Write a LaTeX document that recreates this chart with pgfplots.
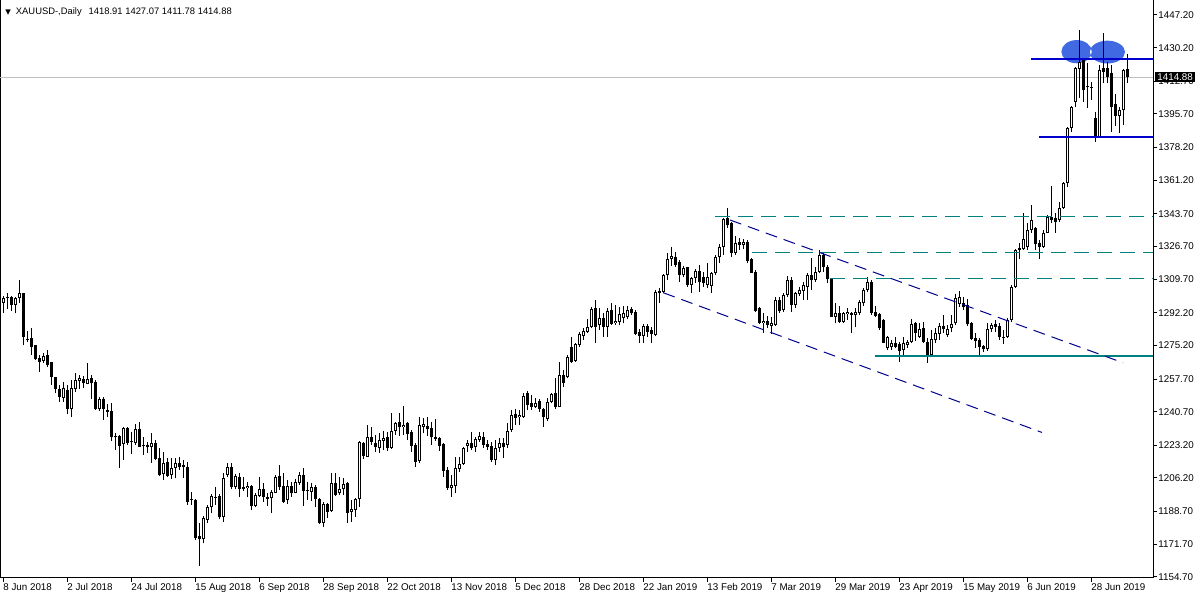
\documentclass[border=0pt]{standalone}
\usepackage{pgfplots}
\pgfplotsset{compat=1.18}
\usepackage{pgfplotstable}
\usepackage{fontspec}
\setmainfont{Liberation Sans}
\newfontfamily\symfont{DejaVu Sans}
\definecolor{hblue}{RGB}{0,0,205}
\definecolor{ellblue}{RGB}{65,105,225}
\definecolor{navyd}{RGB}{0,0,139}
\definecolor{tealc}{RGB}{0,128,128}
\definecolor{pgray}{RGB}{192,192,192}

\pgfplotstableread{
i O H L C
0 1297.3 1300.9 1292.1 1299.9
1 1299.8 1302.6 1294.0 1300.2
2 1300.6 1300.9 1293.3 1296.2
3 1296.2 1300.6 1291.9 1299.7
4 1299.7 1309.3 1297.4 1302.3
5 1302.6 1302.6 1275.4 1279.7
6 1278.4 1282.7 1277.2 1278.0
7 1278.9 1284.1 1270.2 1274.5
8 1275.4 1275.6 1267.5 1268.0
9 1268.8 1270.2 1261.5 1266.7
10 1267.1 1271.1 1266.2 1269.7
11 1270.2 1272.8 1264.1 1265.0
12 1266.4 1266.4 1254.6 1258.9
13 1258.6 1258.9 1250.6 1252.4
14 1252.5 1254.6 1245.9 1248.5
15 1248.0 1256.3 1245.9 1253.2
16 1252.0 1254.6 1239.5 1242.1
17 1242.0 1257.2 1238.1 1253.2
18 1252.4 1261.0 1251.1 1257.2
19 1256.8 1259.8 1252.4 1258.4
20 1257.7 1259.4 1252.9 1255.5
21 1255.1 1265.9 1254.9 1257.7
22 1258.1 1259.8 1247.3 1255.5
23 1256.2 1257.2 1241.6 1242.1
24 1242.1 1248.5 1241.2 1247.3
25 1247.3 1248.5 1236.4 1242.0
26 1241.6 1244.7 1238.1 1240.7
27 1241.1 1245.1 1225.6 1227.7
28 1228.1 1229.8 1220.8 1227.4
29 1228.1 1228.6 1211.6 1222.9
30 1223.9 1232.9 1215.6 1232.1
31 1232.1 1232.9 1223.4 1224.6
32 1225.3 1230.3 1218.7 1225.1
33 1224.3 1234.3 1223.4 1231.5
34 1231.5 1235.5 1222.2 1222.5
35 1223.1 1227.7 1218.2 1223.0
36 1223.4 1225.1 1219.1 1222.2
37 1222.2 1229.5 1214.2 1224.6
38 1224.6 1226.0 1215.6 1215.9
39 1216.4 1221.7 1207.2 1207.8
40 1208.3 1219.9 1205.2 1213.9
41 1214.7 1216.4 1206.9 1207.2
42 1207.8 1216.4 1205.5 1211.2
43 1211.2 1216.4 1206.0 1213.9
44 1213.9 1217.3 1210.4 1212.1
45 1213.0 1215.6 1206.0 1211.8
46 1211.8 1214.7 1192.2 1193.9
47 1194.8 1199.1 1192.2 1194.6
48 1194.8 1195.1 1173.9 1174.8
49 1176.0 1182.6 1160.4 1174.3
50 1174.3 1186.4 1172.2 1185.2
51 1184.3 1192.2 1182.9 1190.9
52 1190.9 1197.9 1187.8 1196.8
53 1195.6 1201.7 1192.2 1196.4
54 1196.8 1197.9 1184.7 1185.7
55 1186.1 1209.0 1183.5 1206.0
56 1207.8 1213.9 1206.9 1211.8
57 1211.8 1213.9 1200.3 1201.4
58 1201.4 1208.3 1200.3 1207.2
59 1206.6 1208.6 1196.5 1200.3
60 1201.7 1206.6 1199.6 1200.3
61 1200.8 1204.3 1196.5 1202.0
62 1202.0 1202.6 1189.6 1191.6
63 1191.6 1198.2 1190.9 1197.4
64 1196.8 1206.9 1196.1 1200.3
65 1200.3 1203.8 1193.9 1196.1
66 1196.5 1198.2 1191.6 1195.4
67 1195.6 1200.0 1188.1 1199.1
68 1198.6 1207.8 1198.2 1206.6
69 1207.2 1213.0 1200.0 1201.7
70 1202.0 1208.6 1193.3 1193.9
71 1194.8 1205.2 1192.7 1202.0
72 1202.0 1204.3 1196.5 1198.6
73 1198.6 1205.5 1198.2 1204.3
74 1203.5 1209.5 1202.6 1207.8
75 1207.8 1211.2 1191.6 1199.6
76 1199.5 1204.3 1194.8 1199.3
77 1199.1 1203.4 1194.4 1201.4
78 1201.4 1202.6 1190.9 1195.1
79 1195.1 1195.6 1182.3 1183.0
80 1183.0 1193.9 1180.9 1192.7
81 1192.7 1193.3 1185.2 1188.7
82 1189.2 1208.6 1188.7 1203.4
83 1203.4 1208.6 1196.8 1197.4
84 1198.2 1206.9 1197.4 1200.3
85 1200.3 1206.0 1197.4 1203.1
86 1203.4 1204.3 1183.0 1188.1
87 1188.7 1194.8 1183.5 1189.9
88 1189.5 1195.6 1186.1 1195.1
89 1195.1 1225.6 1191.3 1224.8
90 1224.3 1225.1 1215.9 1217.6
91 1217.3 1233.8 1217.0 1227.4
92 1227.4 1232.9 1223.4 1225.1
93 1224.3 1228.6 1219.9 1222.5
94 1221.7 1229.5 1219.1 1226.0
95 1225.6 1230.8 1220.8 1226.9
96 1227.4 1230.3 1220.4 1221.7
97 1221.7 1239.9 1221.1 1230.7
98 1230.8 1235.5 1228.6 1234.7
99 1235.5 1240.2 1228.1 1232.6
100 1232.6 1243.7 1228.6 1233.8
101 1234.7 1235.5 1226.0 1229.1
102 1230.3 1231.2 1219.9 1222.9
103 1223.4 1224.3 1212.1 1214.7
104 1215.1 1238.1 1214.2 1233.8
105 1232.9 1237.3 1229.5 1234.3
106 1233.3 1237.8 1228.1 1231.5
107 1232.1 1235.5 1223.4 1227.4
108 1227.4 1236.8 1225.6 1226.3
109 1226.9 1227.4 1220.4 1222.9
110 1223.9 1224.3 1206.9 1210.0
111 1210.4 1211.8 1200.0 1200.8
112 1200.8 1207.8 1196.5 1202.6
113 1202.0 1217.0 1198.2 1211.2
114 1210.7 1217.3 1209.5 1213.5
115 1213.5 1222.5 1213.0 1221.7
116 1222.9 1226.0 1219.9 1224.6
117 1224.6 1230.3 1220.8 1221.7
118 1222.2 1227.7 1219.9 1226.3
119 1226.0 1230.3 1225.1 1228.1
120 1227.4 1230.3 1221.7 1223.4
121 1223.9 1226.0 1220.8 1222.5
122 1222.9 1225.1 1214.5 1215.6
123 1215.6 1226.0 1213.0 1221.7
124 1221.7 1226.9 1219.9 1224.6
125 1224.3 1226.9 1216.4 1222.2
126 1223.4 1235.0 1221.7 1230.8
127 1231.2 1241.6 1230.3 1239.0
128 1239.3 1242.0 1233.8 1237.3
129 1237.8 1241.6 1233.8 1239.0
130 1237.8 1250.3 1237.3 1248.9
131 1250.3 1251.6 1241.6 1244.2
132 1245.1 1249.4 1241.6 1243.3
133 1243.3 1247.7 1242.5 1245.4
134 1246.4 1247.2 1240.7 1242.0
135 1242.0 1242.5 1232.9 1238.1
136 1236.7 1247.7 1236.0 1245.9
137 1245.9 1250.6 1245.1 1249.9
138 1250.3 1258.1 1242.0 1243.0
139 1243.3 1266.7 1243.0 1259.8
140 1259.8 1262.4 1253.7 1255.8
141 1258.6 1270.2 1258.1 1269.3
142 1274.2 1279.7 1266.2 1266.7
143 1267.3 1276.6 1266.7 1275.9
144 1275.4 1282.3 1274.5 1281.2
145 1280.1 1284.1 1278.1 1282.9
146 1282.3 1288.8 1281.5 1284.6
147 1284.6 1295.0 1284.1 1294.2
148 1294.5 1298.9 1276.6 1284.9
149 1285.8 1294.5 1283.2 1289.3
150 1289.3 1291.9 1279.4 1284.9
151 1284.9 1294.5 1279.7 1293.1
152 1293.6 1297.1 1285.8 1286.4
153 1286.7 1296.3 1285.8 1287.9
154 1287.6 1295.4 1285.8 1291.6
155 1289.3 1295.7 1286.7 1291.9
156 1289.8 1295.7 1288.8 1293.6
157 1294.0 1295.4 1291.0 1291.9
158 1292.8 1293.6 1280.6 1281.2
159 1282.3 1283.6 1276.6 1280.1
160 1280.1 1286.4 1276.6 1285.3
161 1285.3 1286.4 1279.7 1282.3
162 1283.2 1284.9 1276.6 1281.2
163 1280.6 1304.1 1280.1 1303.2
164 1302.7 1304.9 1297.4 1303.5
165 1303.2 1312.4 1302.7 1311.9
166 1311.9 1323.2 1309.3 1320.0
167 1320.3 1326.6 1316.6 1321.8
168 1321.4 1324.0 1316.2 1317.1
169 1318.8 1319.5 1308.4 1311.9
170 1311.9 1316.6 1311.0 1315.3
171 1315.9 1316.2 1305.8 1306.7
172 1306.7 1311.0 1302.3 1310.1
173 1310.1 1314.8 1307.9 1314.1
174 1314.1 1317.1 1303.2 1308.4
175 1311.0 1313.6 1305.8 1307.9
176 1306.7 1317.9 1304.9 1311.0
177 1306.1 1313.6 1302.3 1313.1
178 1312.7 1322.3 1311.9 1321.4
179 1321.4 1328.0 1318.0 1326.6
180 1326.6 1341.4 1322.3 1340.8
181 1341.4 1346.6 1336.2 1337.9
182 1339.1 1339.6 1321.1 1323.5
183 1323.5 1332.2 1322.3 1328.7
184 1329.2 1331.0 1324.9 1327.5
185 1327.5 1330.4 1325.2 1329.2
186 1329.2 1330.1 1317.9 1319.3
187 1320.0 1320.5 1312.7 1313.1
188 1313.6 1314.5 1292.8 1293.3
189 1294.5 1295.0 1286.4 1286.7
190 1286.7 1291.9 1281.8 1288.1
191 1288.1 1290.5 1284.1 1285.8
192 1285.3 1290.2 1281.2 1287.0
193 1285.8 1300.6 1285.3 1298.9
194 1298.9 1300.6 1292.2 1293.3
195 1293.6 1302.6 1292.8 1301.5
196 1301.5 1311.3 1300.6 1309.3
197 1309.3 1311.0 1292.8 1296.3
198 1296.3 1303.2 1294.5 1302.3
199 1301.9 1305.8 1300.9 1304.1
200 1303.7 1308.4 1298.9 1306.7
201 1305.8 1313.1 1298.9 1311.9
202 1311.9 1320.6 1304.1 1309.3
203 1309.3 1316.2 1308.4 1313.6
204 1313.6 1324.9 1313.1 1322.3
205 1322.3 1323.5 1313.6 1316.2
206 1316.2 1317.1 1307.5 1309.6
207 1309.6 1310.1 1289.9 1290.2
208 1290.2 1297.4 1286.7 1292.2
209 1292.2 1295.7 1287.0 1287.6
210 1287.6 1292.8 1286.7 1292.2
211 1291.6 1294.5 1288.4 1292.8
212 1291.1 1292.8 1281.5 1292.0
213 1291.1 1294.5 1284.6 1292.8
214 1292.2 1298.9 1291.0 1298.0
215 1297.1 1304.9 1295.7 1304.1
216 1304.1 1311.0 1303.2 1308.4
217 1308.4 1309.3 1291.0 1292.2
218 1292.8 1295.7 1289.9 1290.5
219 1291.6 1291.9 1283.2 1284.1
220 1288.4 1288.8 1276.3 1276.6
221 1273.7 1280.1 1272.8 1279.4
222 1274.2 1278.0 1272.8 1276.3
223 1276.6 1279.7 1273.7 1274.5
224 1275.9 1277.1 1266.7 1272.5
225 1272.8 1279.4 1269.7 1276.3
226 1275.4 1278.0 1273.7 1277.1
227 1277.1 1288.8 1276.3 1286.4
228 1286.7 1287.6 1277.7 1281.8
229 1279.7 1286.7 1278.9 1283.6
230 1284.1 1287.6 1276.3 1277.1
231 1277.1 1278.9 1266.2 1270.2
232 1270.2 1283.2 1269.3 1278.4
233 1278.0 1284.1 1276.6 1281.5
234 1281.2 1286.7 1278.0 1285.1
235 1285.3 1291.0 1281.5 1283.6
236 1280.6 1285.8 1279.7 1283.6
237 1284.1 1291.0 1282.3 1286.4
238 1286.7 1302.0 1285.8 1299.7
239 1296.8 1303.7 1295.1 1300.6
240 1297.1 1300.6 1293.6 1295.4
241 1296.3 1299.2 1285.3 1286.4
242 1286.7 1287.6 1278.0 1278.4
243 1278.9 1281.5 1273.7 1277.7
244 1278.0 1278.9 1270.2 1274.5
245 1274.9 1275.4 1272.0 1273.2
246 1273.2 1287.0 1272.5 1283.6
247 1283.6 1286.7 1282.3 1285.8
248 1286.4 1288.4 1282.3 1285.0
249 1285.3 1287.0 1278.0 1279.7
250 1279.7 1283.0 1276.0 1279.0
251 1279.5 1289.5 1278.9 1288.4
252 1288.4 1306.7 1287.6 1305.8
253 1305.8 1325.4 1305.0 1324.9
254 1324.9 1328.7 1320.0 1325.8
255 1325.2 1344.3 1324.9 1330.4
256 1326.6 1338.8 1324.9 1335.3
257 1335.3 1348.3 1333.6 1340.5
258 1336.2 1337.0 1324.9 1327.8
259 1328.7 1330.1 1320.0 1326.6
260 1326.6 1335.3 1325.8 1333.6
261 1333.9 1343.1 1333.6 1341.9
262 1342.2 1358.2 1338.8 1340.5
263 1341.4 1344.0 1333.6 1339.6
264 1340.5 1350.0 1339.6 1346.6
265 1346.6 1360.4 1346.1 1359.6
266 1359.9 1389.1 1357.8 1388.2
267 1388.2 1399.8 1386.4 1399.1
268 1402.1 1420.3 1399.5 1419.4
269 1419.0 1439.4 1404.0 1422.9
270 1423.8 1424.1 1402.1 1408.2
271 1410.0 1422.0 1398.6 1409.6
272 1409.5 1412.5 1403.0 1409.3
273 1393.4 1396.9 1381.2 1383.9
274 1383.9 1421.0 1383.6 1418.6
275 1419.4 1437.7 1411.6 1417.7
276 1419.4 1422.9 1411.6 1415.1
277 1416.8 1421.2 1386.4 1399.1
278 1400.9 1406.1 1389.4 1394.6
279 1394.6 1399.1 1385.6 1397.8
280 1397.8 1418.9 1389.9 1418.6
281 1418.9 1427.1 1411.8 1414.9
}\ohlc

\begin{document}
\begin{tikzpicture}
\useasboundingbox (0,0) rectangle (600pt,300pt);
\begin{axis}[
  at={(0pt,11pt)}, anchor=south west,
  scale only axis, width=576.5pt, height=289pt,
  xmin=-0.75, xmax=287.5, ymin=1154.15, ymax=1455,
  axis line style={line width=0.5pt, black},
  xtick={0,16,...,272},
  xticklabels={8 Jun 2018,2 Jul 2018,24 Jul 2018,15 Aug 2018,6 Sep 2018,28 Sep 2018,22 Oct 2018,13 Nov 2018,5 Dec 2018,28 Dec 2018,22 Jan 2019,13 Feb 2019,7 Mar 2019,29 Mar 2019,23 Apr 2019,15 May 2019,6 Jun 2019,28 Jun 2019},
  ytick={1154.7,1171.7,1188.7,1206.2,1223.2,1240.7,1257.7,1275.2,1292.2,1309.7,1326.7,1343.7,1361.2,1378.2,1395.7,1412.7,1430.2,1447.2},
  yticklabels={1154.70,1171.70,1188.70,1206.20,1223.20,1240.70,1257.70,1275.20,1292.20,1309.70,1326.70,1343.70,1361.20,1378.20,1395.70,1412.70,1430.20,1447.20},
  xtick pos=bottom, ytick pos=right, yticklabel pos=right,
  tick align=outside, major tick length=2pt,
  tick style={black, line width=0.5pt},
  ticklabel style={font=\fontsize{4.9}{5.4}\selectfont},
  xticklabel style={anchor=north west, inner sep=0pt, yshift=-0.5pt},
  yticklabel style={anchor=west, inner sep=0pt, xshift=0.5pt},
  clip=false,
]
% current price line
\addplot[pgray, line width=0.5pt] coordinates {(-0.75,1414.88) (287.5,1414.88)};
% ellipses
\fill[ellblue, even odd rule] (axis cs:268.4,1428.1) ellipse [x radius=7.6pt, y radius=5.8pt]
  (axis cs:276.1,1427.9) ellipse [x radius=8.8pt, y radius=5.7pt];
% wicks
\addplot[black, line width=0.5pt, quiver={u=0, v=\thisrow{H}-\thisrow{L}}] table[x=i, y=L] {\ohlc};
% bodies
\addplot[black, line width=1.5pt, quiver={u=0, v={max(abs(\thisrow{C}-\thisrow{O}),0.52)}}]
  table[x=i, y expr={min(\thisrow{O},\thisrow{C})}] {\ohlc};
% hollow interiors of up candles
\addplot[white, line width=0.5pt, quiver={u=0, v={max(\thisrow{C}-\thisrow{O}-1.04,0)}}]
  table[x=i, y expr={\thisrow{O}+0.52}] {\ohlc};
% horizontal levels
\addplot[tealc, line width=0.5pt, dash pattern=on 7.5pt off 4pt] coordinates {(178,1342.2) (287.5,1342.2)};
\addplot[tealc, line width=0.5pt, dash pattern=on 7.5pt off 4pt] coordinates {(187.25,1323.5) (287.5,1323.5)};
\addplot[tealc, line width=0.5pt, dash pattern=on 7.5pt off 4pt] coordinates {(206.75,1309.8) (287.5,1309.8)};
\addplot[tealc, line width=1pt] coordinates {(218,1269.9) (287.5,1269.9)};
% channel
\addplot[navyd, line width=0.5pt, dash pattern=on 6pt off 3.5pt] coordinates {(181.75,1340.5) (280,1266.2)};
\addplot[navyd, line width=0.5pt, dash pattern=on 6pt off 3.5pt] coordinates {(165.1,1302.6) (259.75,1229.9)};
% range lines
\addplot[hblue, line width=1pt] coordinates {(257,1424.3) (287.5,1424.3)};
\addplot[hblue, line width=1pt] coordinates {(259,1383.8) (287.5,1383.8)};
% header and price label
\node[anchor=west, inner sep=0pt, font=\fontsize{4.7}{5.2}\selectfont] at ([xshift=2.5pt,yshift=-5.9pt]rel axis cs:0,1)
  {{\symfont\fontsize{3.6}{4}\selectfont ▼}\hspace{2.5pt}XAUUSD-,Daily\hspace{3.5pt}1418.91 1427.07 1411.78 1414.88};
\node[fill=black, text=white, anchor=west, inner xsep=1pt, inner ysep=0.9pt, font=\fontsize{4.9}{5.4}\selectfont]
  at ([xshift=1pt]axis cs:287.5,1414.88) {1414.88};
\end{axis}
\end{tikzpicture}
\end{document}
